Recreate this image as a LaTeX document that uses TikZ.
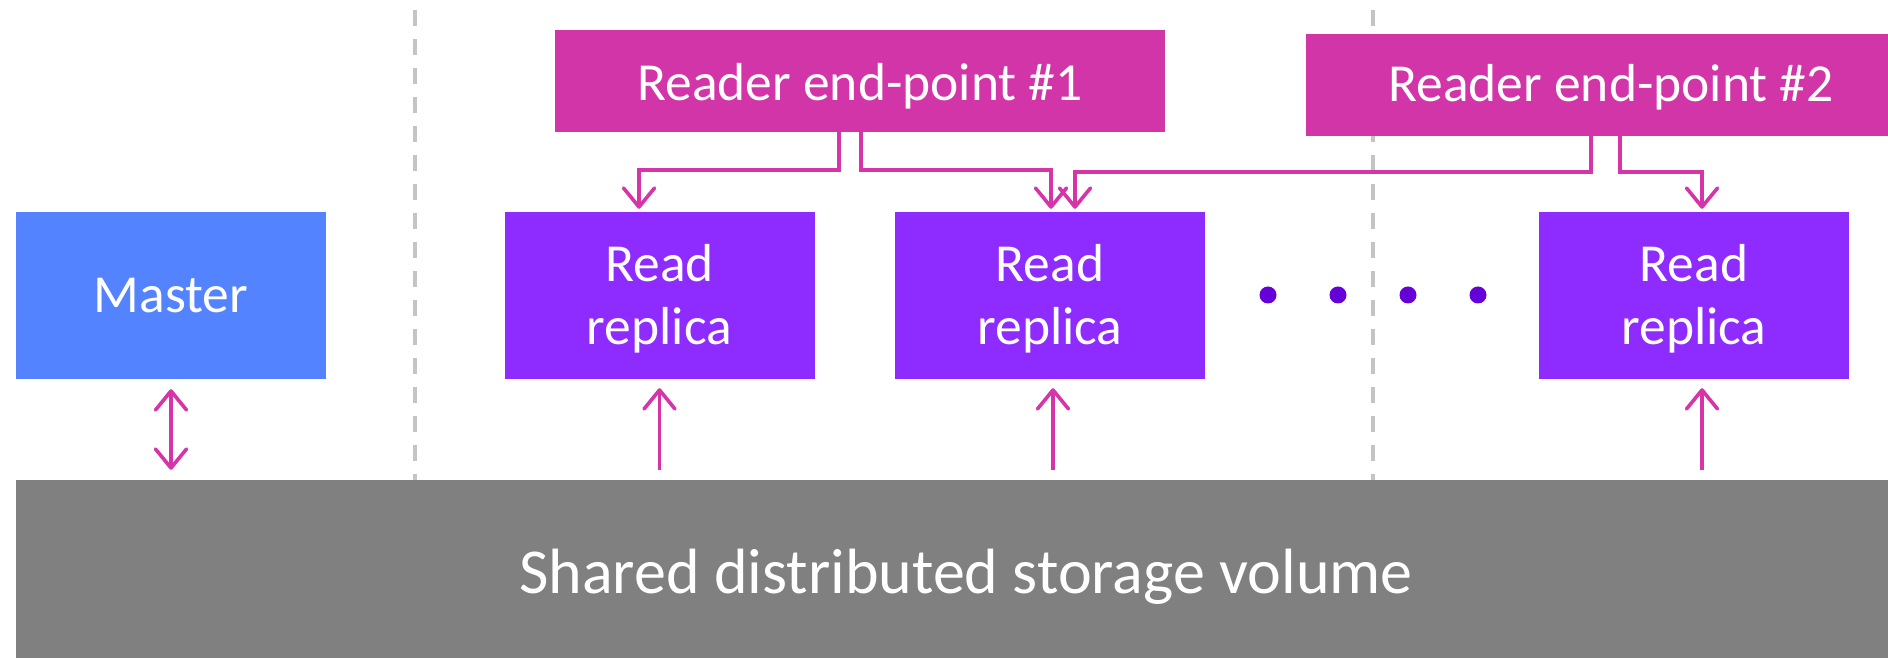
\documentclass[tikz,border=0pt]{standalone}
\usepackage{fontspec}
\setmainfont{Carlito}
\usetikzlibrary{arrows.meta,calc}
\definecolor{endpoint}{HTML}{D235A8}
\definecolor{link}{HTML}{D535A9}
\definecolor{replica}{HTML}{8E2BFF}
\definecolor{masterblue}{HTML}{5383FF}
\definecolor{storagegray}{HTML}{808080}
\definecolor{divider}{HTML}{C4C4C4}
\definecolor{dotpurple}{HTML}{6600D9}
\begin{document}
\begin{tikzpicture}[x=1pt,y=1pt,
  boxtext/.style={text=white, inner sep=0pt, align=center, text depth=0pt,
    font=\fontsize{53.5}{60}\selectfont},
  endpointbox/.style={boxtext, fill=endpoint, minimum width=610pt, minimum height=102pt,
    text height=40pt},
  replicabox/.style={boxtext, fill=replica, minimum width=310pt, minimum height=167pt},
  masterbox/.style={boxtext, fill=masterblue, minimum width=310pt, minimum height=167pt,
    text height=35pt},
  storagebox/.style={boxtext, fill=storagegray, minimum width=1900pt, minimum height=180pt,
    text height=47pt, font=\fontsize{64}{76}\selectfont},
  linetext/.style={text=white, inner sep=0pt, anchor=base,
    font=\fontsize{53.5}{60}\selectfont},
  conn/.style={draw=link, line width=3.6pt,
    -{Straight Barb[length=19pt,width=31pt,round]}},
  biconn/.style={draw=link, line width=3.6pt,
    {Straight Barb[length=19pt,width=31pt,round]}-{Straight Barb[length=19pt,width=31pt,round]}},
  divline/.style={draw=divider, line width=4.3pt, dash pattern=on 16pt off 13pt, dash phase=19pt},
  ellipsisdot/.style={fill=dotpurple, circle, inner sep=0pt, minimum size=17pt}
]
\useasboundingbox (0,0) rectangle (1888,658);
\clip (0,0) rectangle (1888,658);

% zone dividers
\coordinate (d1top) at (415,658);
\coordinate (d2top) at (1373,658);

% storage layer
\node[storagebox] (storage) at (966,88) {Shared distributed storage volume};

\draw[divline] (d1top) -- (d1top |- storage.north);
\draw[divline] (d2top) -- (d2top |- storage.north);

% instances
\node[masterbox] (master) at (171,362.5) {Master};
\node[replicabox] (r1) at (659.5,362.5) {};
\node[replicabox] (r2) at (1050,362.5) {};
\node[replicabox] (r3) at (1694,362.5) {};
\foreach \r in {r1,r2,r3}{
  \node[linetext] (\r-top) at ([yshift=13.5pt]\r.center) {Read};
  \node[linetext] (\r-bot) at ([yshift=-49pt]\r.center) {replica};
}

% more replicas in between
\node[ellipsisdot] (e1) at (1268,363) {};
\node[ellipsisdot] (e2) at (1338,363) {};
\node[ellipsisdot] (e3) at (1408,363) {};
\node[ellipsisdot] (e4) at (1478,363) {};

% reader end-points
\node[endpointbox] (re1) at (860,577) {Reader end-point \#1};
\node[endpointbox, text height=34pt] (re2) at (1611,573) {Reader end-point \#2};

% end-point routing
\draw[conn] ([xshift=-21pt]re1.south) -- ++(0,-38) -| ([xshift=-20.5pt,yshift=3pt]r1.north);
\draw[conn] ([xshift=1pt]re1.south) -- ++(0,-38) -| ([xshift=1pt,yshift=3pt]r2.north);
\draw[conn] ([xshift=-20pt]re2.south) -- ++(0,-36) -| ([xshift=25pt,yshift=3pt]r2.north);
\draw[conn] ([xshift=9pt]re2.south) -- ++(0,-36) -| ([xshift=8pt,yshift=3pt]r3.north);

% storage access
\draw[biconn] ($(master.south |- storage.north)+(0,10)$) -- ([yshift=-10pt]master.south);
\draw[conn] ($(r1.south |- storage.north)+(0,10)$) -- ([yshift=-9pt]r1.south);
\draw[conn] ($(r2.south |- storage.north)+(3,10)$) -- ([xshift=3pt,yshift=-9pt]r2.south);
\draw[conn] ($(r3.south |- storage.north)+(8,10)$) -- ([xshift=8pt,yshift=-9pt]r3.south);
\end{tikzpicture}
\end{document}
